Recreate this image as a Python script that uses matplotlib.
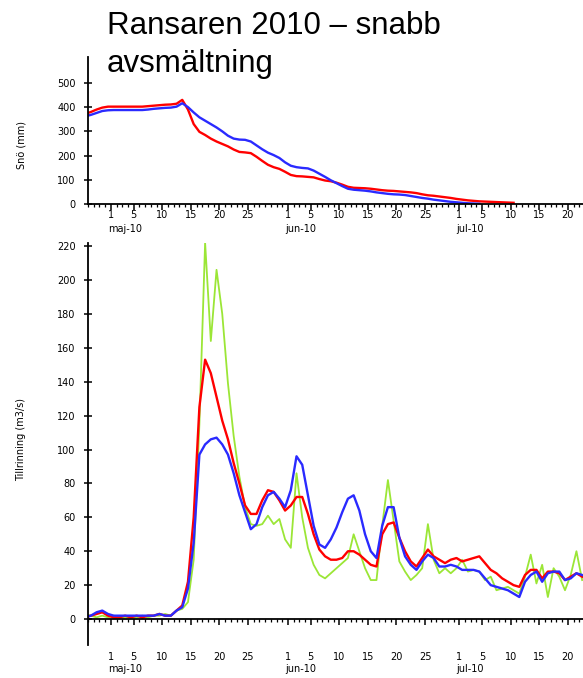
import numpy as np
import pandas as pd
import matplotlib
matplotlib.use("Agg")
import matplotlib.pyplot as plt
import matplotlib.transforms as mtransforms

# ---------------- data ----------------
title_line1 = "Ransaren 2010 – snabb"
title_line2 = "avsmältning"
snow_label = "Snö (mm)"
flow_label = "Tillrinning (m3/s)"
month_labels = ["maj-10", "jun-10", "jul-10"]
month_starts = ["2010-05-01", "2010-06-01", "2010-07-01"]
tick_days = [1, 5, 10, 15, 20, 25]
x_start = "2010-04-27"
x_end = "2010-07-23"
series_start = "2010-04-26"

snow_red = [372, 380, 390, 398, 402, 402, 402, 402, 402, 402, 402, 404, 406, 408,
            410, 411, 414, 430, 390, 330, 298, 285, 270, 258, 248, 238, 225, 215,
            213, 210, 195, 178, 162, 152, 145, 133, 120, 115, 114, 112, 110, 103,
            97, 94, 88, 80, 71, 67, 66, 65, 63, 60, 57, 55, 54, 52, 50, 48, 45,
            40, 36, 34, 31, 28, 25, 21, 18, 15, 13, 11, 10, 9, 8, 7, 6, 5]
snow_blue = [362, 368, 376, 384, 387, 388, 388, 388, 388, 388, 388, 390, 393, 395,
             397, 398, 402, 416, 400, 378, 358, 344, 330, 316, 300, 282, 270, 266,
             265, 258, 242, 226, 212, 202, 190, 172, 158, 152, 149, 147, 138, 125,
             112, 98, 86, 74, 63, 59, 57, 55, 52, 48, 45, 42, 40, 39, 37, 33, 29,
             25, 22, 18, 15, 12, 9, 7, 5, 3, 2, 1]

flow_green = [3, 2, 1, 2, 1, 2, 1, 1, 1, 1, 2, 1, 2, 2, 3, 2, 5, 6, 10, 35,
              115, 222, 164, 206, 180, 139, 108, 84, 66, 56, 55, 56, 61, 56, 59,
              47, 42, 86, 60, 42, 32, 26, 24, 27, 30, 33, 36, 50, 40, 30, 23, 23,
              55, 82, 58, 34, 28, 23, 26, 30, 56, 35, 27, 30, 27, 30, 35, 28, 29,
              28, 23, 25, 17, 18, 19, 17, 15, 25, 38, 21, 32, 13, 30, 25, 17, 26,
              40, 23]
flow_red = [1, 2, 3, 4, 2, 1, 1, 2, 1, 2, 1, 2, 2, 3, 2, 2, 5, 8, 22, 60,
            125, 153, 145, 131, 117, 106, 92, 80, 67, 62, 62, 70, 76, 75, 70,
            64, 67, 72, 72, 62, 50, 41, 37, 35, 35, 36, 40, 40, 38, 35, 32, 31,
            50, 56, 57, 48, 40, 34, 31, 36, 41, 37, 35, 33, 35, 36, 34, 35, 36,
            37, 33, 29, 27, 24, 22, 20, 19, 26, 29, 29, 24, 28, 28, 27, 23, 25,
            27, 25]
flow_blue = [1, 2, 4, 5, 3, 2, 2, 2, 2, 2, 2, 2, 2, 3, 2, 2, 5, 7, 18, 45,
             97, 103, 106, 107, 103, 97, 86, 73, 63, 53, 56, 66, 73, 75, 71,
             66, 76, 96, 91, 73, 55, 44, 42, 47, 54, 63, 71, 73, 64, 50, 40, 36,
             55, 66, 66, 48, 37, 32, 29, 34, 38, 36, 31, 31, 32, 31, 29, 29, 29,
             28, 24, 20, 19, 18, 17, 15, 13, 22, 26, 28, 22, 27, 28, 28, 23, 24,
             27, 26]

# ---------------- helpers ----------------
ref = pd.Timestamp("2010-05-01")


def day_num(s):
    return (pd.Timestamp(s) - ref).days


def series_x(values):
    dates = pd.date_range(series_start, periods=len(values), freq="D") + pd.Timedelta(hours=12)
    return np.asarray((dates - ref) / pd.Timedelta(days=1), dtype=float)


x0 = day_num(x_start)
x1 = day_num(x_end) - 0.35

RED = "#ff0000"
BLUE = "#2a2aff"
GREEN = "#9be636"

W, H = 583, 678
fig = plt.figure(figsize=(W / 100, H / 100), dpi=100)

ax1 = fig.add_axes([88 / W, 1 - 204 / H, (W - 88) / W, (204 - 57) / H])
ax2 = fig.add_axes([88 / W, 1 - 645 / H, (W - 88) / W, (645 - 243) / H])

# month/day tick positions
major_pos, major_lab = [], []
for ms in month_starts:
    base = day_num(ms)
    for td in tick_days:
        p = base + td - 1
        if x0 <= p <= x1:
            major_pos.append(p)
            major_lab.append(str(td))
minor_pos = np.arange(np.ceil(x0), np.floor(x1) + 1)

# top chart
ax1.plot(series_x(snow_red), snow_red, color=RED, lw=1.7, solid_joinstyle="round")
ax1.plot(series_x(snow_blue), snow_blue, color=BLUE, lw=1.7, solid_joinstyle="round")
ax1.set_ylim(0, 607)
ax1.set_yticks([0, 100, 200, 300, 400, 500])

# bottom chart
ax2.plot(series_x(flow_green), flow_green, color=GREEN, lw=1.3)
ax2.plot(series_x(flow_red), flow_red, color=RED, lw=1.7)
ax2.plot(series_x(flow_blue), flow_blue, color=BLUE, lw=1.7)
ax2.set_ylim(-15.3, 221.8)
ax2.set_yticks(np.arange(0, 221, 20))
ax2.spines["bottom"].set_position(("data", 0))

for ax in (ax1, ax2):
    ax.set_xlim(x0, x1)
    for s in ("top", "right"):
        ax.spines[s].set_visible(False)
    for s in ("left", "bottom"):
        ax.spines[s].set_linewidth(1.3)
    ax.set_xticks(major_pos)
    ax.set_xticks(minor_pos, minor=True)
    ax.set_xticklabels([])
    ax.tick_params(axis="x", which="major", direction="out", length=4, width=1.1)
    ax.tick_params(axis="x", which="minor", direction="out", length=2.2, width=0.9)
    ax.tick_params(axis="y", which="major", direction="inout", length=6, width=1.1,
                   labelsize=7, pad=6)

# tick labels drawn as text, positioned below the axes
def day_labels(ax, y_day, y_month):
    tr = mtransforms.blended_transform_factory(ax.transData, ax.transAxes)
    for p, lab in zip(major_pos, major_lab):
        ax.text(p, y_day, lab, transform=tr, ha="center", va="center", fontsize=7)
    for ms, lab in zip(month_starts, month_labels):
        ax.text(day_num(ms) - 0.5, y_month, lab, transform=tr, ha="left", va="center",
                fontsize=7)


day_labels(ax1, (204 - 215.5) / 147, (204 - 228.5) / 147)
day_labels(ax2, (645 - 657) / 402, (645 - 669) / 402)

ax1.set_ylabel(snow_label, fontsize=7)
ax1.yaxis.set_label_coords(-0.125, 0.40)
ax2.set_ylabel(flow_label, fontsize=7)
ax2.yaxis.set_label_coords(-0.125, 0.51)

fig.text(107 / W, 1 - 34 / H, title_line1, fontsize=22.5, family="Liberation Sans",
         ha="left", va="baseline")
fig.text(107 / W, 1 - 72 / H, title_line2, fontsize=22.5, family="Liberation Sans",
         ha="left", va="baseline")

fig.savefig("out.png", dpi=100)
